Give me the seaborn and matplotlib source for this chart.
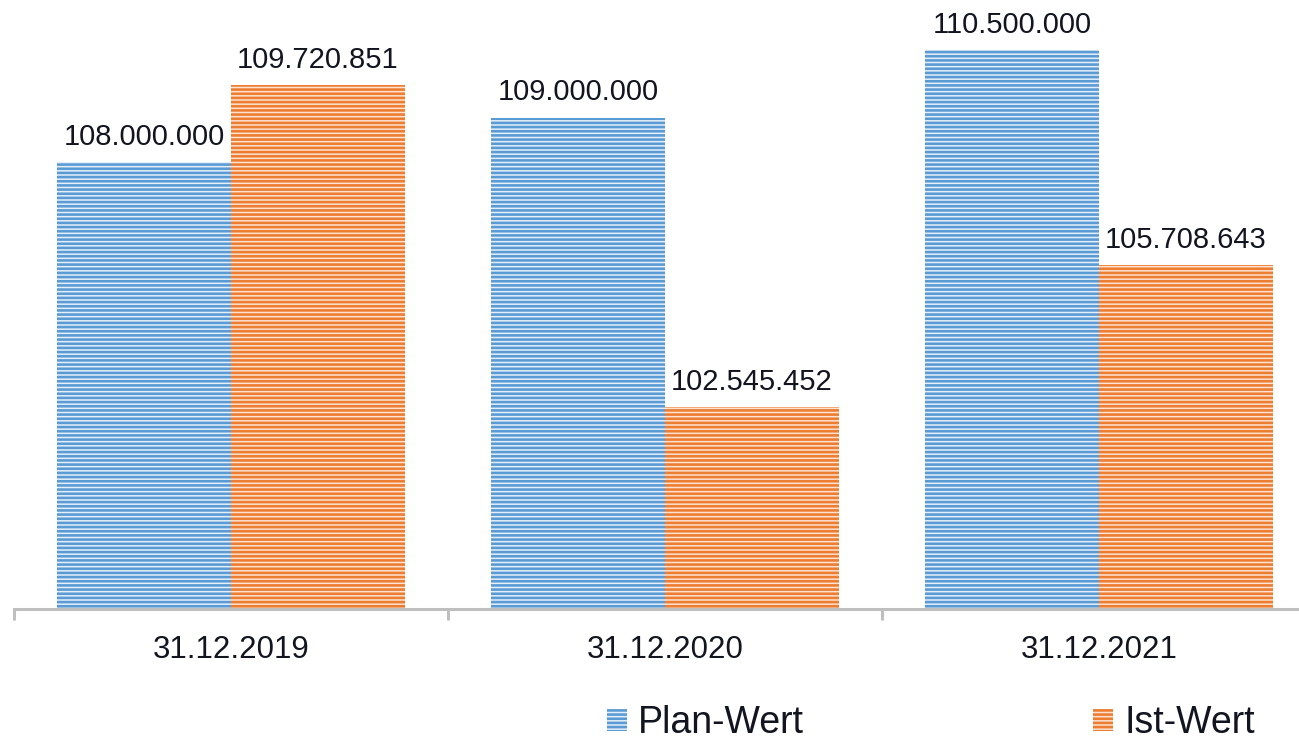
import numpy as np
import pandas as pd
import matplotlib
matplotlib.use("Agg")
import matplotlib.pyplot as plt
from matplotlib.patches import Patch
import seaborn as sns

# data
dates = ["31.12.2019", "31.12.2020", "31.12.2021"]
series = ["Plan-Wert", "Ist-Wert"]
plan_values = [108000000, 109000000, 110500000]
ist_values = [109720851, 102545452, 105708643]

df = pd.DataFrame({
    "Datum": dates * 2,
    "Reihe": [series[0]] * 3 + [series[1]] * 3,
    "Wert": plan_values + ist_values,
})

dark = {"Plan-Wert": "#5b9bd5", "Ist-Wert": "#ed7d31"}
light = {"Plan-Wert": "#e6eff9", "Ist-Wert": "#fce3d3"}
text_col = "#12141f"

sns.set_style("white")
plt.rcParams["font.family"] = ["Liberation Sans", "DejaVu Sans"]
plt.rcParams["hatch.linewidth"] = 1.9

W, H = 1299, 741
fig = plt.figure(figsize=(W / 100, H / 100), dpi=100)
# plot area runs past the right edge, like the cropped original
base = 608.5
ax = fig.add_axes([14 / W, (H - base) / H, 1302 / W, base / H])

sns.barplot(data=df, x="Datum", y="Wert", hue="Reihe", hue_order=series,
            palette=dark, width=0.8, errorbar=None, legend=False, ax=ax)

for name, cont in zip(series, ax.containers):
    for bar in cont:
        bar.set_facecolor(light[name])
        bar.set_edgecolor(dark[name])
        bar.set_linewidth(0)
        bar.set_hatch("----")
    labels = [f"{v:,.0f}".replace(",", ".") for v in cont.datavalues]
    ax.bar_label(cont, labels=labels, padding=8, fontsize=21, color=text_col)

ax.set_xlim(-0.5, 2.5)
ax.set_ylim(98.07e6, 98.07e6 + base / 44.92 * 1e6)

for s in ["top", "left", "right"]:
    ax.spines[s].set_visible(False)
ax.spines["bottom"].set_color("#bfbfbf")
ax.spines["bottom"].set_linewidth(2.2)

ax.set_yticks([])
ax.set_xlabel("")
ax.set_ylabel("")
ax.set_xticks(np.arange(-0.5, 3, 1), minor=True)
ax.tick_params(axis="x", which="minor", bottom=True, length=8, width=2.2,
               color="#bfbfbf", direction="out")
ax.tick_params(axis="x", which="major", bottom=True, length=0, pad=19,
               labelsize=22.5, labelcolor=text_col)

handles = [Patch(facecolor=light[n], edgecolor=dark[n], linewidth=0,
                 hatch="----", label=n) for n in series]
fig.legend(handles=handles, loc="lower left", ncol=2,
           bbox_to_anchor=(607 / W, 0), frameon=False,
           fontsize=27, handlelength=0.53, handleheight=0.53,
           handletextpad=0.3, columnspacing=7.7, borderpad=0,
           borderaxespad=0, labelcolor=text_col)

fig.savefig("out.png", dpi=100)
